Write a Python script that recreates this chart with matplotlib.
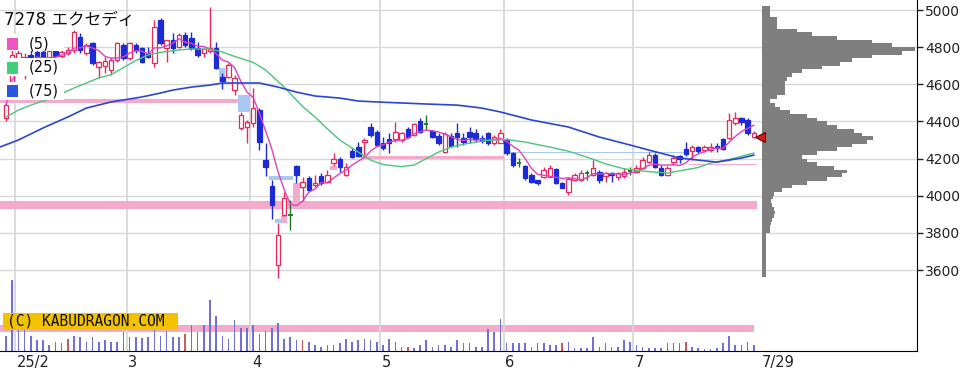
import matplotlib
matplotlib.use("Agg")
import matplotlib.pyplot as plt
from matplotlib.patches import Rectangle
import numpy as np
import pandas as pd

W, H = 980, 376

# daily candles, 2025-01-30 .. 2025-07-29
opens = [4418, 4560, 4740, 4700, 4760, 4775, 4775, 4740, 4780, 4755,
         4770, 4785, 4855, 4768, 4822, 4693, 4698, 4677, 4731, 4811,
         4742, 4811, 4795, 4768, 4714, 4946, 4795, 4838, 4801, 4865,
         4849, 4795, 4768, 4779, 4795, 4640, 4639, 4569, 4365, 4370,
         4391, 4461, 4192, 4052, 3627, 3896, 3896, 4160, 4047, 4095,
         4058, 4106, 4074, 4176, 4197, 4111, 4241, 4262, 4289, 4370,
         4343, 4284, 4305, 4305, 4300, 4359, 4327, 4402, 4386, 4348,
         4321, 4235, 4321, 4338, 4311, 4343, 4338, 4311, 4338, 4284,
         4284, 4300, 4230, 4176, 4160, 4111, 4084, 4101, 4101, 4144,
         4068, 4020, 4084, 4084, 4122, 4111, 4128, 4106, 4122, 4101,
         4106, 4133, 4128, 4149, 4181, 4219, 4149, 4111, 4181, 4214,
         4251, 4241, 4262, 4246, 4246, 4268, 4305, 4311, 4391, 4418,
         4408, 4316]
highs = [4500, 4790, 4800, 4770, 4790, 4800, 4790, 4790, 4795, 4790,
         4800, 4892, 4876, 4822, 4828, 4725, 4747, 4747, 4828, 4822,
         4828, 4822, 4801, 4801, 4946, 4957, 4838, 4876, 4876, 4881,
         4881, 4828, 4795, 5016, 4828, 4660, 4714, 4650, 4450, 4408,
         4580, 4472, 4284, 4085, 3853, 4020, 3975, 4165, 4101, 4106,
         4111, 4122, 4138, 4230, 4208, 4176, 4257, 4289, 4311, 4391,
         4354, 4316, 4338, 4397, 4343, 4370, 4391, 4418, 4434, 4354,
         4338, 4343, 4338, 4391, 4338, 4370, 4359, 4327, 4343, 4327,
         4359, 4311, 4235, 4203, 4165, 4122, 4084, 4155, 4165, 4149,
         4074, 4101, 4122, 4138, 4138, 4192, 4138, 4128, 4128, 4128,
         4149, 4155, 4165, 4208, 4235, 4230, 4165, 4160, 4219, 4219,
         4289, 4273, 4268, 4273, 4284, 4284, 4311, 4445, 4450, 4424,
         4418, 4348]
lows = [4402, 4525, 4700, 4630, 4700, 4720, 4720, 4730, 4740, 4735,
        4760, 4768, 4768, 4758, 4704, 4634, 4661, 4650, 4720, 4731,
        4731, 4768, 4714, 4742, 4693, 4811, 4720, 4768, 4795, 4801,
        4785, 4747, 4747, 4768, 4680, 4575, 4634, 4542, 4354, 4284,
        4370, 4246, 4105, 3874, 3557, 3890, 3815, 4068, 3970, 4020,
        4047, 4058, 4068, 4160, 4128, 4106, 4203, 4208, 4208, 4316,
        4268, 4246, 4230, 4289, 4289, 4311, 4321, 4338, 4354, 4311,
        4273, 4230, 4262, 4262, 4273, 4284, 4289, 4284, 4273, 4273,
        4284, 4219, 4155, 4155, 4084, 4068, 4058, 4095, 4101, 4063,
        4041, 4004, 4079, 4079, 4084, 4106, 4068, 4074, 4074, 4084,
        4095, 4111, 4122, 4144, 4176, 4149, 4106, 4106, 4165, 4176,
        4214, 4192, 4230, 4235, 4235, 4235, 4246, 4305, 4381, 4381,
        4327, 4311]
closes = [4488, 4760, 4770, 4745, 4720, 4740, 4735, 4780, 4755, 4775,
          4785, 4881, 4785, 4811, 4714, 4720, 4725, 4731, 4822, 4742,
          4822, 4785, 4720, 4747, 4908, 4822, 4838, 4795, 4865, 4811,
          4795, 4758, 4790, 4795, 4690, 4620, 4704, 4634, 4434, 4397,
          4472, 4289, 4155, 3950, 3788, 3988, 3896, 4111, 4074, 4031,
          4068, 4068, 4111, 4197, 4155, 4155, 4208, 4214, 4300, 4327,
          4273, 4257, 4284, 4343, 4338, 4316, 4386, 4343, 4386, 4316,
          4284, 4332, 4268, 4316, 4289, 4316, 4305, 4295, 4284, 4316,
          4338, 4230, 4165, 4176, 4095, 4074, 4068, 4138, 4149, 4068,
          4041, 4090, 4111, 4122, 4122, 4149, 4084, 4122, 4111, 4122,
          4128, 4133, 4149, 4192, 4219, 4155, 4111, 4149, 4203, 4197,
          4225, 4262, 4241, 4262, 4262, 4257, 4251, 4408, 4418, 4397,
          4338, 4338]
volumes = [15, 71, 22, 22, 15, 11, 11, 6, 9, 8,
           12, 15, 14, 9, 14, 9, 11, 9, 9, 19,
           14, 14, 13, 14, 22, 15, 20, 14, 14, 17,
           26, 19, 26, 51, 35, 15, 12, 31, 23, 23,
           26, 17, 20, 23, 28, 12, 14, 11, 11, 9,
           6, 4, 6, 6, 8, 12, 9, 11, 12, 11,
           9, 6, 12, 9, 4, 4, 3, 6, 11, 4,
           6, 6, 4, 11, 8, 8, 4, 4, 22, 19,
           32, 8, 8, 8, 8, 4, 8, 8, 6, 6,
           8, 9, 3, 3, 3, 14, 4, 8, 4, 4,
           11, 9, 6, 4, 3, 3, 3, 8, 8, 8,
           9, 4, 3, 2, 2, 3, 8, 15, 6, 6,
           9, 6]
vol_red_days = [10, 29, 48, 65, 90, 110]
vol_band = (19, 26)

# moving averages (day index, price)
ma25_days = [0, 2, 4, 7, 11, 13, 15, 17, 19, 21, 23, 25, 28, 30, 33, 35, 37,
             40, 42, 45, 48, 50, 52, 54, 57, 59, 61, 64, 66, 68, 70, 72, 75,
             78, 81, 84, 88, 91, 94, 97, 100, 103, 107, 110, 112, 114, 117, 121]
ma25_vals = [4424, 4461, 4488, 4521, 4580, 4607, 4634, 4652, 4690, 4728, 4758,
             4772, 4785, 4790, 4790, 4774, 4750, 4718, 4677, 4585, 4480, 4424,
             4360, 4300, 4235, 4192, 4168, 4157, 4165, 4200, 4235, 4262, 4284,
             4298, 4303, 4289, 4262, 4240, 4208, 4172, 4145, 4133, 4122, 4140,
             4152, 4176, 4195, 4230]
ma75_days = [-1, 2, 6, 10, 13, 17, 20, 22, 25, 27, 30, 33, 35, 38, 41, 44, 47,
             50, 54, 57, 60, 68, 73, 77, 80, 85, 91, 96, 101, 104, 109, 112,
             115, 119, 121]
ma75_vals = [4262, 4300, 4365, 4424, 4472, 4505, 4521, 4532, 4553, 4569, 4585,
             4596, 4607, 4607, 4607, 4585, 4558, 4537, 4526, 4510, 4505, 4494,
             4488, 4472, 4451, 4408, 4370, 4316, 4273, 4246, 4203, 4192, 4181,
             4203, 4219]

# unfilled gaps: (first day, last day, low, high, kind)
gap_first = [-1, 38, 35, 43, 44, 45, 47, 53, -1, 58, 81, 111]
gap_last = [37, 39, 35, 46, 44, 45, 47, 53, 121, 80, 110, 121]
gap_low = [4497, 4450, 4615, 4085, 3853, 3853, 3966, 4138, 3930, 4198, 4228, 4163]
gap_high = [4520, 4540, 4690, 4105, 3874, 3890, 4068, 4160, 3973, 4212, 4236, 4171]
gap_up = [True, False, False, False, False, True, True, True, True, True, False, True]

# volume by price, 20-yen bins from 3560
profile_low = 3560
profile_step = 20
profile = [4] * 12 + [8, 8, 9, 10, 12, 13, 12, 10, 9, 11,
                      12, 20, 30, 45, 65, 80, 85, 72, 55, 45,
                      40, 55, 75, 90, 105, 111, 100, 92, 75, 65,
                      55, 45, 28, 18, 13, 8, 15, 23, 23, 23,
                      23, 25, 30, 40, 60, 78, 90, 110, 140, 153,
                      130, 110, 75, 50, 35, 15, 15, 15, 8, 8, 8]
last_price = 4315

month_start = [2, 20, 40, 61, 81, 102]
month_labels = ["25/2", "3", "4", "5", "6", "7"]
last_label = "7/29"
price_ticks = [3600, 3800, 4000, 4200, 4400, 4600, 4800, 5000]

UP = "#e8285a"
DOWN = "#1c2bd6"
DOJI = "#1a7a1a"
PINK = "#f4aacb"
LBLUE = "#a9c9f2"
GRID = "#d8d8d8"

fig = plt.figure(figsize=(W / 100, H / 100), dpi=100)
ax = fig.add_axes([0, 25 / H, 917 / W, 351 / H])
axv = ax.twinx()
ax.set_zorder(axv.get_zorder() + 1)
ax.patch.set_visible(False)

n = len(closes)
idx = np.arange(n)
o = np.array(opens, float)
c = np.array(closes, float)
hi = np.array(highs, float)
lo = np.array(lows, float)

ax.set_xlim(-0.97, 147.4)
ax.set_ylim(3164, 5054)

# grid
ax.set_yticks(price_ticks)
ax.grid(axis="y", color=GRID, lw=1, zorder=0)
ax.set_axisbelow(True)
ax.vlines(np.array(month_start) - 0.5, 3164, 5054, color=GRID, lw=1.3, zorder=0)

# gaps
for f, l, g0, g1, up in zip(gap_first, gap_last, gap_low, gap_high, gap_up):
    ax.add_patch(Rectangle((f - 0.5, g0), l - f + 1, g1 - g0,
                           facecolor=PINK if up else LBLUE, edgecolor="none", zorder=1))

# candles
up = c > o
down = c < o
doji = c == o
wick_col = np.where(up, UP, np.where(down, DOWN, DOJI))
ax.vlines(idx, lo, hi, colors=wick_col, lw=1, zorder=3)
bw = 0.72
ax.bar(idx[up], (c - o)[up], bottom=o[up], width=bw, facecolor="white",
       edgecolor=UP, lw=0.9, zorder=4)
ax.bar(idx[down], (o - c)[down], bottom=c[down], width=bw, facecolor=DOWN,
       edgecolor=DOWN, lw=0.9, zorder=4)
ax.hlines(c[doji], idx[doji] - bw / 2, idx[doji] + bw / 2, color=DOJI, lw=1.3, zorder=4)

# moving averages
ma5 = pd.Series(c).rolling(5, min_periods=1).mean()
ax.plot(idx, ma5, color="#e040c0", lw=1.0, zorder=5)
ax.plot(ma25_days, ma25_vals, color="#4cc47c", lw=1.0, zorder=5)
ax.plot(ma75_days, ma75_vals, color="#2a46d4", lw=1.2, zorder=5)

# volume by price
prof = np.array(profile, float)
prof_y = profile_low + profile_step * np.arange(len(prof)) + profile_step / 2
prof_left = n + 0.3
ax.barh(prof_y, prof * 24.8 / prof.max(), height=profile_step, left=prof_left,
        color="#7f7f7f", lw=0, zorder=2)
ax.plot(prof_left - 0.3, last_price, marker="<", ms=7, color="#e41818",
        mec="#500000", mew=0.8, zorder=6, clip_on=False)

# volume
vcol = ["#d05a5a" if i in vol_red_days else "#7070d8" for i in idx]
axv.bar(idx, volumes, width=0.26, color=vcol, zorder=2)
axv.add_patch(Rectangle((-1.5, vol_band[0]), n + 0.5, vol_band[1] - vol_band[0],
                        facecolor=PINK, edgecolor="none", zorder=1))
axv.set_ylim(0, max(volumes) * 4.95)
axv.set_yticks([])
for s in axv.spines.values():
    s.set_visible(False)

# axes styling
for s in ["left", "top"]:
    ax.spines[s].set_visible(False)
ax.spines["right"].set_color("black")
ax.spines["bottom"].set_color("black")
ax.yaxis.tick_right()
ax.tick_params(axis="y", length=4, width=1, pad=2, labelsize=10, colors="#222222")
ax.set_xticks([m - 0.2 for m in month_start] + [n + 0.3])
ax.set_xticklabels(month_labels + [last_label])
ax.tick_params(axis="x", length=0, pad=3, labelsize=10.5, colors="#222222")
for t in ax.get_xticklabels():
    t.set_ha("left")


def fx(x):
    return x / W


def fy(y):
    return 1 - y / H


# title and legend
fig.text(fx(4), fy(20), "7278 エクセディ", fontsize=12, va="center",
         family=["DejaVu Sans", "Noto Sans CJK JP"], color="#111111")
for y0, y1 in [(34, 51), (58, 76), (82, 100)]:
    fig.add_artist(Rectangle((0, fy(y1)), fx(64), (y1 - y0) / H,
                             transform=fig.transFigure, facecolor="white",
                             edgecolor="none", zorder=2))
for yc, col, lab in [(44, "#f055c5", "(5)"), (67.5, "#40d07a", "(25)"),
                     (91, "#2a55e0", "(75)")]:
    fig.add_artist(Rectangle((fx(7), fy(yc + 6)), fx(11), 12 / H,
                             transform=fig.transFigure, facecolor=col,
                             edgecolor="none", zorder=3))
    fig.text(fx(29), fy(yc), lab, fontsize=10.5, va="center", color="#111111", zorder=4)

# copyright
fig.add_artist(Rectangle((fx(3), fy(330)), fx(175), 17 / H, transform=fig.transFigure,
                         facecolor="#f2c200", edgecolor="none", zorder=3))
fig.text(fx(7), fy(321.5), "(C) KABUDRAGON.COM", fontsize=10.5, va="center",
         family="DejaVu Sans Mono", color="#111111", zorder=4)

fig.savefig("out.png", dpi=100)
